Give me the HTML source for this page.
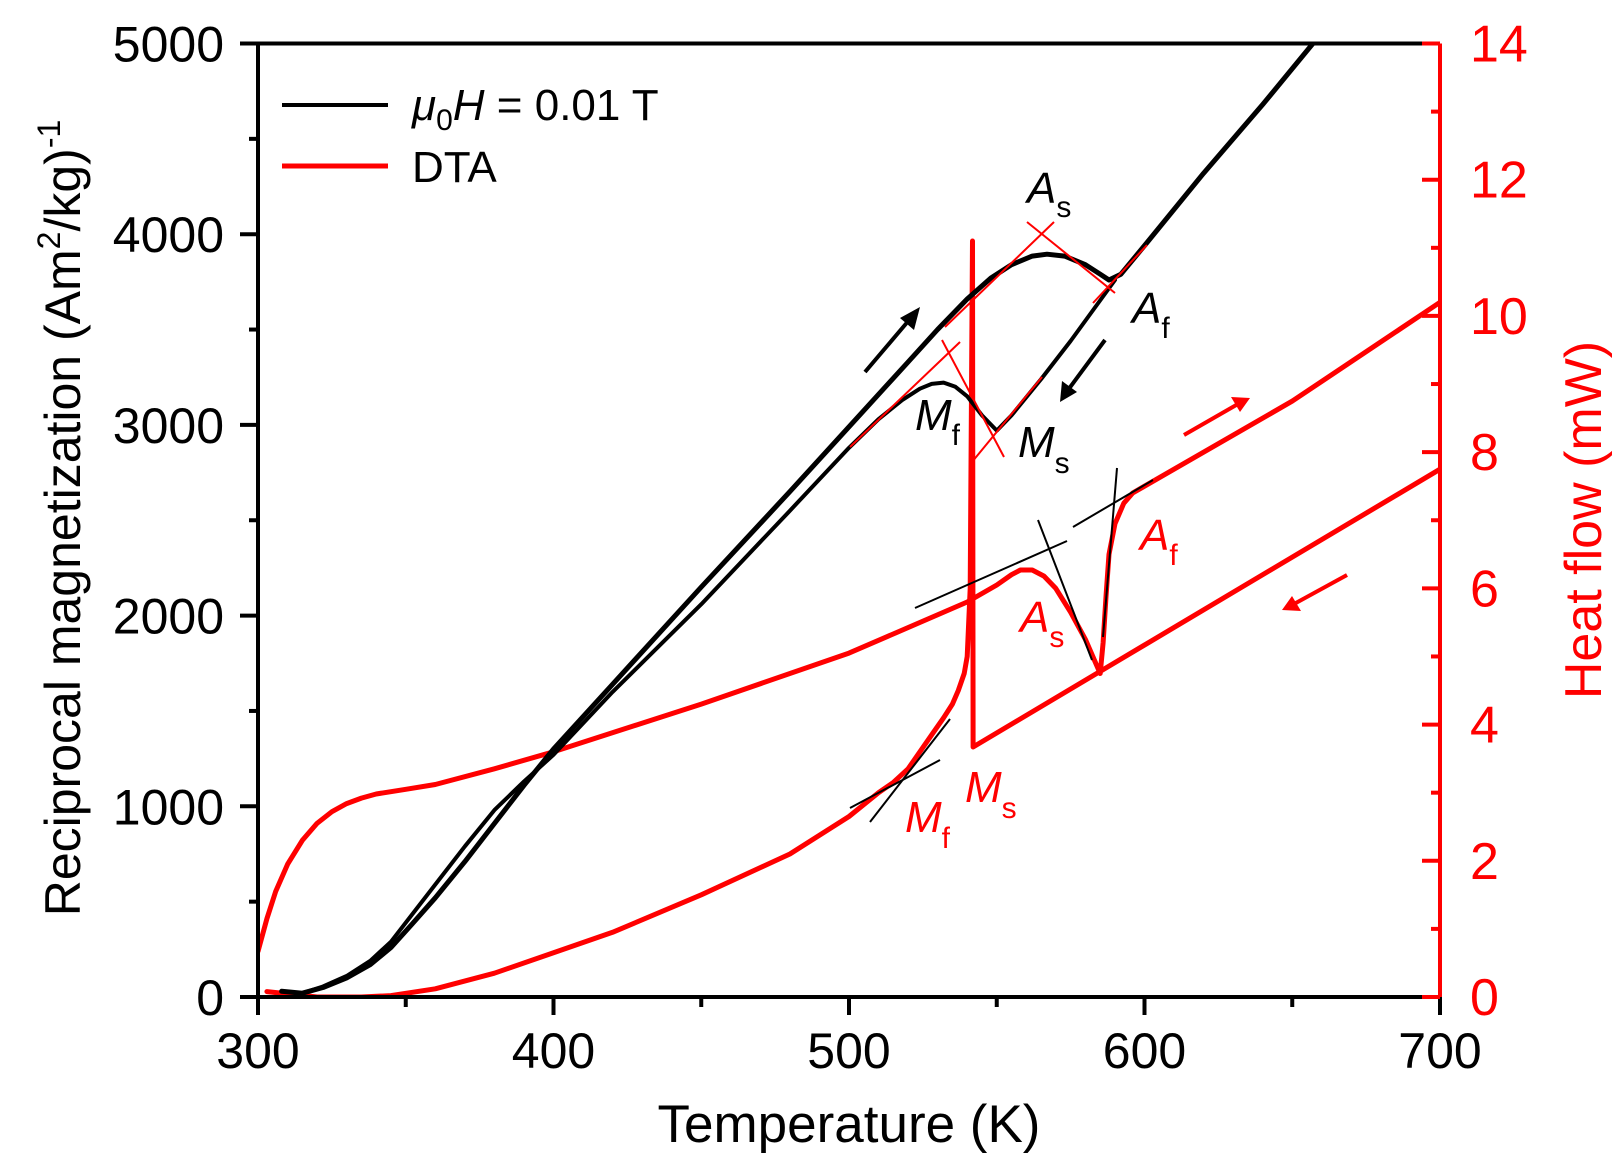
<!DOCTYPE html>
<html><head><meta charset="utf-8"><style>
html,body{margin:0;padding:0;background:#fff}
svg{display:block;font-family:"Liberation Sans",Arial,sans-serif}
</style></head><body>
<svg id="chart" width="1622" height="1164" viewBox="0 0 1622 1164">
<g id="marks"></g>
<g id="annot">
  <g stroke="#f00" stroke-width="2" fill="none">
    <line x1="1027" y1="222" x2="1115" y2="293"/>
    <line x1="1054" y1="222" x2="945" y2="327"/>
    <line x1="1093" y1="303" x2="1147" y2="245"/>
    <line x1="850" y1="447" x2="960" y2="342"/>
    <line x1="942" y1="340" x2="1004" y2="457"/>
    <line x1="972" y1="462" x2="1042" y2="377"/>
  </g>
  <g stroke="#000" stroke-width="2" fill="none">
    <line x1="915" y1="608" x2="1067" y2="541"/>
    <line x1="1038" y1="520" x2="1092" y2="660"/>
    <line x1="1073" y1="527" x2="1153" y2="480"/>
    <line x1="1117" y1="468" x2="1103" y2="637"/>
    <line x1="870" y1="822" x2="950" y2="719"/>
    <line x1="850" y1="808" x2="940" y2="760"/>
  </g>
  <g>
    <line x1="865" y1="372" x2="910" y2="319" stroke="#000" stroke-width="4"/>
    <polygon points="920,307 900,318 914,330" fill="#000"/>
    <line x1="1105" y1="340" x2="1068" y2="390" stroke="#000" stroke-width="4"/>
    <polygon points="1060,402 1062,381 1077,392" fill="#000"/>
    <line x1="1184" y1="435" x2="1238" y2="404" stroke="#f00" stroke-width="4"/>
    <polygon points="1250,398 1231,397 1240,412" fill="#f00"/>
    <line x1="1347" y1="575" x2="1294" y2="604" stroke="#f00" stroke-width="4"/>
    <polygon points="1282,610 1301,611 1292,596" fill="#f00"/>
  </g>
  <g font-style="italic" font-size="44">
    <text x="1027" y="203">A<tspan font-style="normal" font-size="30" dy="14">s</tspan></text>
    <text x="1132" y="323">A<tspan font-style="normal" font-size="30" dy="15">f</tspan></text>
    <text x="915" y="430">M<tspan font-style="normal" font-size="30" dy="15">f</tspan></text>
    <text x="1018" y="457">M<tspan font-style="normal" font-size="30" dy="16">s</tspan></text>
    <g fill="#f00">
    <text x="1140" y="550">A<tspan font-style="normal" font-size="30" dy="15">f</tspan></text>
    <text x="1020" y="632">A<tspan font-style="normal" font-size="30" dy="15">s</tspan></text>
    <text x="965" y="802">M<tspan font-style="normal" font-size="30" dy="16">s</tspan></text>
    <text x="905" y="832">M<tspan font-style="normal" font-size="30" dy="16">f</tspan></text>
    </g>
  </g>
</g>
<g>
  <line x1="282" y1="105" x2="388" y2="105" stroke="#000" stroke-width="4"/>
  <text x="412" y="120" font-size="44"><tspan font-style="italic">μ</tspan><tspan font-size="30" dy="10">0</tspan><tspan font-style="italic" dy="-10">H</tspan> = 0.01 T</text>
  <line x1="282" y1="166" x2="388" y2="166" stroke="#f00" stroke-width="5"/>
  <text x="412" y="182" font-size="44">DTA</text>
</g>
<text x="849" y="1142" font-size="53" text-anchor="middle">Temperature (K)</text>
<text transform="translate(80,518) rotate(-90)" font-size="50" text-anchor="middle">Reciprocal magnetization (Am<tspan font-size="32" dy="-20">2</tspan><tspan dy="20">/kg)</tspan><tspan font-size="32" dy="-20">-1</tspan></text>
<text transform="translate(1601,520) rotate(-90)" font-size="52" text-anchor="middle" fill="#f00">Heat flow (mW)</text>
</svg>
<script>
const xTicks=[300,400,500,600,700];
const yTicks=[0,1000,2000,3000,4000,5000];
const y2Ticks=[0,2,4,6,8,10,12,14];
// black: heating branch (T, 1/M)
const heatT=[308,315,322,330,338,345,352,360,370,380,390,400,420,450,480,500,520,530,540,548,555,562,567,573,580,585,588,592,600,620,640,657];
const heatM=[30,20,50,100,170,260,380,520,710,910,1110,1300,1640,2150,2650,2990,3330,3500,3660,3770,3840,3885,3895,3885,3840,3790,3760,3790,3940,4320,4680,5000];
// black: cooling branch
const coolT=[308,315,322,330,338,345,352,360,370,380,390,400,420,450,480,500,510,518,524,528,532,536,540,545,550,555,565,575,590];
const coolM=[30,20,55,110,190,290,430,590,790,980,1130,1270,1600,2060,2550,2880,3030,3130,3190,3215,3222,3200,3150,3050,2970,3050,3240,3440,3760];
// red DTA heating (T, mW)
const dhT=[300,303,306,310,315,320,325,330,335,340,350,360,380,400,450,500,540,550,555,558,562,566,570,575,580,585,586,587,588,590,593,596,600,650,700];
const dhM=[0.67,1.15,1.55,1.95,2.3,2.55,2.72,2.84,2.92,2.98,3.05,3.12,3.35,3.6,4.3,5.05,5.8,6.05,6.2,6.27,6.27,6.18,6.0,5.65,5.25,4.75,5.2,5.9,6.5,6.95,7.25,7.4,7.5,8.75,10.2];
// red DTA cooling (T, mW), listed in cooling order
const dcT=[700,585,542,541.8,541,540,539,537,535,532,528,524,520,515,510,500,480,450,420,400,380,360,345,335,320,303];
const dcM=[7.75,4.78,3.67,11.1,6.0,5.0,4.75,4.5,4.3,4.1,3.85,3.6,3.35,3.15,3.0,2.65,2.1,1.5,0.95,0.65,0.35,0.12,0.02,0,0,0.08];

const L=258,R=1440,T0=43.5,B=997;
const xs=t=>L+(t-300)*(R-L)/400;
const yl=v=>B-v*(B-T0)/5000;
const yr=v=>B-v*(B-T0)/14;
const NS='http://www.w3.org/2000/svg';
const g=document.getElementById('marks');
function mk(tag,at,parent){const e=document.createElementNS(NS,tag);for(const k in at)e.setAttribute(k,at[k]);(parent||g).appendChild(e);return e;}
const clip=mk('clipPath',{id:'pc'});mk('rect',{x:L,y:T0,width:R-L,height:B-T0},clip);
const cg=mk('g',{'clip-path':'url(#pc)'});
function pathC(tx,vx,yf,color,w,name){
  const d=tx.map((t,i)=>(i?'L':'M')+xs(t).toFixed(1)+','+yf(vx[i]).toFixed(1)).join('');
  const e=mk('path',{d:d,fill:'none',stroke:color,'stroke-width':w,'stroke-linejoin':'round','stroke-linecap':'round'},cg);
  
  
}
pathC(dhT,dhM,yr,'#f00',5,'dta-heating-line');
pathC(dcT,dcM,yr,'#f00',5,'dta-cooling-line');
pathC(heatT,heatM,yl,'#000',5,'magnetization-heating-line');
pathC(coolT,coolM,yl,'#000',4,'magnetization-cooling-line');
let a=mk('line',{x1:L,y1:B,x2:R,y2:B,stroke:'#000','stroke-width':4});
a=mk('line',{x1:L,y1:T0,x2:R,y2:T0,stroke:'#000','stroke-width':4});
a=mk('line',{x1:L,y1:T0,x2:L,y2:B+2,stroke:'#000','stroke-width':4});
a=mk('line',{x1:R,y1:T0,x2:R,y2:B,stroke:'#f00','stroke-width':4});
for(let t=300;t<=700;t+=50){const maj=t%100===0;const e=mk('line',{x1:xs(t),y1:B,x2:xs(t),y2:B+(maj?18:10),stroke:'#000','stroke-width':4});}
xTicks.forEach(t=>{const e=mk('text',{x:xs(t),y:1068,'font-size':50,'text-anchor':'middle'});e.textContent=t;});
for(let v=0;v<=5000;v+=500){const maj=v%1000===0;const e=mk('line',{x1:L-(maj?18:9),y1:yl(v),x2:L,y2:yl(v),stroke:'#000','stroke-width':4});}
yTicks.forEach(v=>{const e=mk('text',{x:224,y:yl(v)+18,'font-size':50,'text-anchor':'end'});e.textContent=v;});
for(let v=0;v<=14;v+=1){const maj=v%2===0;const e=mk('line',{x1:R-(maj?18:9),y1:yr(v),x2:R,y2:yr(v),stroke:'#f00','stroke-width':4});}
y2Ticks.forEach(v=>{const e=mk('text',{x:1470,y:yr(v)+18,'font-size':52,fill:'#f00'});e.textContent=v;});
</script>
</body></html>
